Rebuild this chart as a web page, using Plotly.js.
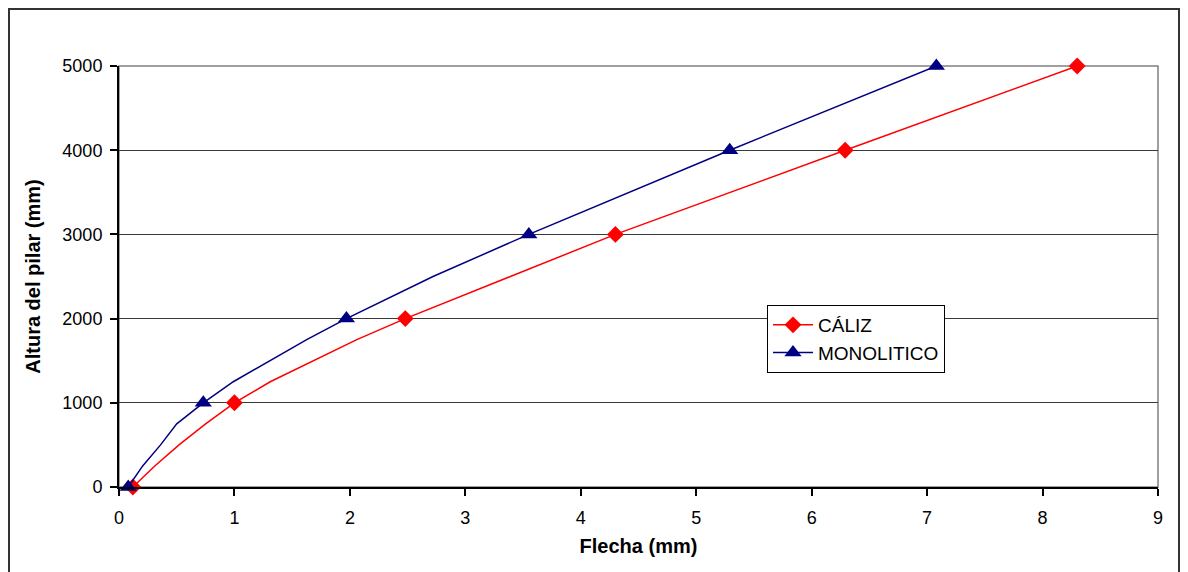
<!DOCTYPE html>
<html>
<head>
<meta charset="utf-8">
<script src="https://cdn.plot.ly/plotly-3.0.1.min.js"></script>
<style>html,body{margin:0;padding:0;background:#fff;}#chart{width:1188px;height:572px;}</style>
</head>
<body>
<div id="chart"></div>
<script>
// Data
const calizName = 'CÁLIZ';
const calizY = [0, 250, 500, 750, 1000, 1250, 1750, 2000, 2500, 3000, 4000, 5000];
const calizX = [0.12, 0.31, 0.52, 0.75, 1.0, 1.31, 2.06, 2.48, 3.39, 4.30, 6.29, 8.30];
const calizMarked = [1, 0, 0, 0, 1, 0, 0, 1, 0, 1, 1, 1];

const monoName = 'MONOLITICO';
const monoY = [0, 250, 500, 750, 1000, 1250, 1750, 2000, 2500, 3000, 4000, 5000];
const monoX = [0.08, 0.205, 0.36, 0.50, 0.73, 0.99, 1.626, 1.97, 2.72, 3.55, 5.29, 7.08];
const monoMarked = [1, 0, 0, 0, 1, 0, 0, 1, 0, 1, 1, 1];

const xTickVals = [0, 1, 2, 3, 4, 5, 6, 7, 8, 9];
const yTickVals = [0, 1000, 2000, 3000, 4000, 5000];

const xTitle = 'Flecha (mm)';
const yTitle = 'Altura del pilar (mm)';

const RED = '#FF0000';
const NAVY = '#000080';
const FONT = 'Liberation Sans, Arial, sans-serif';

function markerColors(flags, col) {
  return flags.map(f => f ? col : 'rgba(0,0,0,0)');
}

const traces = [
  {
    x: calizX, y: calizY, name: calizName, type: 'scatter', mode: 'lines+markers',
    line: {color: RED, width: 1.5},
    marker: {symbol: 'diamond', size: 13, color: markerColors(calizMarked, RED)},
    cliponaxis: false
  },
  {
    x: monoX, y: monoY, name: monoName, type: 'scatter', mode: 'lines+markers',
    line: {color: NAVY, width: 1.5},
    marker: {symbol: 'triangle-up', size: 15, color: markerColors(monoMarked, NAVY)},
    cliponaxis: false
  }
];

const W = 1188, H = 572, L = 119, R = 30, T = 66, B = 85;
const pw = W - L - R, ph = H - T - B;
function px2x(p) { return (p - L) / pw; }
function py2y(p) { return (H - B - p) / ph; }

const layout = {
  width: W, height: H,
  margin: {l: L, r: R, t: T, b: B, pad: 0},
  paper_bgcolor: '#fff', plot_bgcolor: '#fff',
  font: {family: FONT, size: 18, color: '#000'},
  showlegend: true,
  legend: {
    x: px2x(767), y: py2y(305), xanchor: 'left', yanchor: 'top',
    bgcolor: '#fff', bordercolor: '#000', borderwidth: 1,
    font: {family: FONT, size: 19, color: '#000'},
    tracegroupgap: 0, itemwidth: 40
  },
  xaxis: {
    range: [0, 9], tickvals: xTickVals, ticktext: xTickVals.map(String),
    showgrid: false, zeroline: false,
    showline: true, linecolor: '#000', linewidth: 2,
    ticks: 'outside', ticklen: 7, tickwidth: 2, tickcolor: '#000',
    ticklabelstandoff: 6,
    tickfont: {family: FONT, size: 18, color: '#000'},
    title: {text: xTitle, font: {family: FONT, size: 20, color: '#000', weight: 'bold'}, standoff: 12},
    fixedrange: true
  },
  yaxis: {
    range: [0, 5000], tickvals: yTickVals, ticktext: yTickVals.map(String),
    showgrid: true, gridcolor: '#3a3a3a', gridwidth: 1, zeroline: false,
    showline: true, linecolor: '#000', linewidth: 2,
    ticks: 'outside', ticklen: 7, tickwidth: 2, tickcolor: '#000',
    ticklabelstandoff: 4,
    tickfont: {family: FONT, size: 18, color: '#000'},
    title: {text: yTitle, font: {family: FONT, size: 20, color: '#000', weight: 'bold'}, standoff: 16},
    fixedrange: true
  },
  shapes: [
    {type: 'rect', xref: 'paper', yref: 'paper', x0: 0, x1: 1, y0: 0, y1: 1,
     line: {color: '#808080', width: 1.5}, layer: 'below'},
    {type: 'rect', xref: 'paper', yref: 'paper',
     x0: px2x(9), x1: px2x(1179), y0: py2y(620), y1: py2y(9),
     line: {color: '#333', width: 2}, layer: 'below'}
  ]
};

Plotly.newPlot('chart', traces, layout, {displayModeBar: false, staticPlot: true});
</script>
</body>
</html>
